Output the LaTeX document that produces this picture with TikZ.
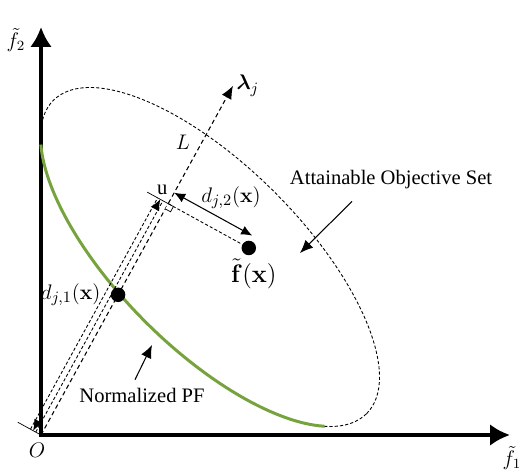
\documentclass[tikz,border=0pt]{standalone}
\usepackage{amsmath}
\usepackage[no-math]{fontspec}
\setmainfont{Liberation Serif}
\usepackage{xcolor}
\usetikzlibrary{positioning, arrows.meta, calc}
\definecolor{pfgreen}{RGB}{118,163,61}

\begin{document}
\begin{tikzpicture}[
    faxis/.style={line width=2.3pt, {Latex[length=4mm, width=4.4mm]}-{Latex[length=4mm, width=4.4mm]}},
    ray/.style={dash pattern=on 2.5pt off 1.8pt, line width=0.6pt, -{Latex[length=2.6mm, width=2.2mm]}},
    bound/.style={dash pattern=on 1.8pt off 1.2pt, line width=0.5pt},
    pf/.style={line width=1.7pt, color=pfgreen},
    dim/.style={line width=0.6pt, {Latex[length=2.2mm, width=1.9mm]}-{Latex[length=2.2mm, width=1.9mm]}},
    pointer/.style={line width=0.6pt, -{Latex[length=2.6mm, width=2.2mm]}},
    dot/.style={circle, fill=black, inner sep=0pt, minimum size=2.9mm},
    txt/.style={font=\fontsize{11.7}{14}\selectfont, inner sep=1pt},
    lab/.style={font=\fontsize{13}{16}\selectfont, inner sep=1pt}
]
    \useasboundingbox (-0.82,-0.72) rectangle (9.58,8.70);
    % Axes
    \coordinate (O) at (0,0);
    \coordinate (f2tip) at (0,8.16);
    \coordinate (f1tip) at (9.38,0);
    \draw[faxis] (f2tip) -- (O) -- (f1tip);
    \node[txt] (f2lab) at (-0.5,7.9) {$\tilde{f}_2$};
    \node[txt] (f1lab) at (9.42,-0.46) {$\tilde{f}_1$};
    \node[txt] (olab) at (-0.08,-0.3) {$O$};
    % Attainable set and normalized PF
    \begin{scope}[shift={(3.38,3.56)}, rotate=-45]
        \draw[bound] (0,0) ellipse [x radius=4.43, y radius=1.83];
        \draw[pf] (206:4.43 and 1.83) arc[start angle=206, end angle=335, x radius=4.43, y radius=1.83];
    \end{scope}
    % Reference direction
    \coordinate (lamtip) at (61.2:7.97);
    \draw[ray] (O) -- (lamtip);
    \node[lab, right=0.3mm of lamtip] (lam) {$\boldsymbol{\lambda}_j$};
    \node[txt] (L) at ($(61.2:6.49)+(151.2:0.33)$) {$L$};
    \coordinate (U) at (61.2:5.28);
    \node[dot] (pfdot) at (61.2:3.2) {};
    \node[dot] (fx) at ($(U)+(-28.8:1.84)$) {};
    % Projection of f(x)
    \draw[bound] (U) -- (fx);
    \draw[line width=0.4pt, fill=white] (U) -- ++(-28.8:0.12) -- ++(241.2:0.12) -- ++(151.2:0.12);
    \draw[line width=0.4pt] ($(U)+(151.2:0.48)$) -- ($(U)+(-28.8:0.08)$);
    \draw[line width=0.4pt] ($(O)+(151.2:0.53)$) -- (O);
    \node[txt] (u) at ($(U)+(61.2:0.19)+(151.2:0.24)$) {u};
    % d_{j,1}
    \draw[bound] ($(O)+(151.2:0.12)$) -- ($(U)+(151.2:0.12)$);
    \draw[bound] ($(O)+(151.2:0.24)$) -- ($(U)+(151.2:0.24)$);
    \draw[dim, dash pattern=on 0pt off 20cm] ($(O)+(151.2:0.18)$) -- ($(U)+(151.2:0.18)$);
    \node[lab, left=1.6mm of pfdot] (d1) {$d_{j,1}(\mathbf{x})$};
    % d_{j,2}
    \draw[dim] ($(U)+(61.2:0.25)$) -- ($(U)+(61.2:0.25)+(-28.8:1.78)$);
    \node[lab] (d2) at ($(61.2:5.985)+(-28.8:1.046)$) {$d_{j,2}(\mathbf{x})$};
    \node[lab, font=\fontsize{14.5}{17}\selectfont] (fxlab) at ($(fx)+(0.1,-0.52)$) {$\tilde{\mathbf{f}}(\mathbf{x})$};
    % Labels with pointers
    \node[txt] (aos) at (7.0,5.1) {Attainable Objective Set};
    \coordinate (aostip) at (5.18,3.64);
    \draw[pointer] ([xshift=-7.8mm, yshift=-2mm]aos.south) -- (aostip);
    \node[txt] (npf) at (2.02,0.8) {Normalized PF};
    \coordinate (npftip) at (2.22,1.8);
    \draw[pointer] ([xshift=-1.4mm, yshift=1.2mm]npf.north) -- (npftip);
\end{tikzpicture}
\end{document}
